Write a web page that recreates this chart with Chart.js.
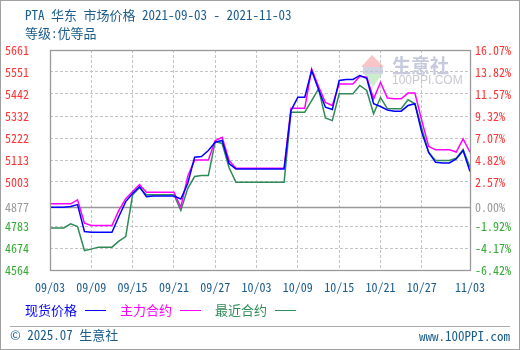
<!DOCTYPE html>
<html>
<head>
<meta charset="utf-8">
<script src="https://cdn.jsdelivr.net/npm/chart.js@4.4.0/dist/chart.umd.min.js"></script>
<style>
  body { margin: 0; background: #fff; }
  #wrap { position: relative; width: 520px; height: 350px; overflow: hidden; background: #fff; }
  #frame { position: absolute; left: 0; top: 0; width: 520px; height: 350px; box-sizing: border-box; border: 1px solid #a0a0a0; pointer-events: none; }
  #chart { position: absolute; left: 0; top: 0; }
  .txt { position: absolute; white-space: nowrap; font-family: "Noto Sans Mono CJK SC", "Noto Sans CJK SC", monospace; font-size: 13px; line-height: 16px; color: #1a5c8c; }
  .lg { position: absolute; height: 0; width: 21px; border-top: 1.5px solid; }
  #sep { position: absolute; left: 10px; top: 326px; width: 500px; height: 0; border-top: 1px solid #aaa; }
</style>
</head>
<body>
<div id="wrap">
  <canvas id="chart" width="520" height="350"></canvas>
  <div class="txt" style="left:25px;top:7px;">PTA 华东 市场价格 2021-09-03 - 2021-11-03</div>
  <div class="txt" style="left:25px;top:25px;">等级:优等品</div>

  <div class="txt" style="left:25px;top:302px;color:#0000ff;">现货价格</div>
  <div class="lg" style="left:85px;top:310px;border-color:#0000ff;"></div>
  <div class="txt" style="left:120px;top:302px;color:#ff00ff;">主力合约</div>
  <div class="lg" style="left:180px;top:310px;border-color:#ff00ff;"></div>
  <div class="txt" style="left:215px;top:302px;color:#2e8b57;">最近合约</div>
  <div class="lg" style="left:275px;top:310px;border-color:#2e8b57;"></div>

  <div id="sep"></div>
  <div class="txt" style="left:10px;top:327px;">© 2025.07 生意社</div>
  <div class="txt" style="right:10px;top:328px;">www.100PPI.com</div>
  <div id="frame"></div>
</div>

<script>
// 每日数据, 从 2021-09-03 起 (共 62 天)
const spotPrice = [4877, 4877, 4877, 4881, 4890, 4756, 4752, 4752, 4752, 4752,
  4831, 4905, 4945, 4980, 4930, 4933, 4933, 4933, 4933, 4918,
  4995, 5126, 5130, 5160, 5201, 5210, 5095, 5068, 5068, 5068,
  5068, 5068, 5068, 5068, 5068, 5359, 5426, 5426, 5559, 5464,
  5376, 5364, 5509, 5514, 5514, 5534, 5520, 5393, 5379, 5362,
  5356, 5356, 5384, 5393, 5250, 5150, 5101, 5098, 5098, 5118,
  5160, 5055];
const mainContract = [4894, 4894, 4894, 4894, 4914, 4797, 4786, 4786, 4786, 4786,
  4861, 4920, 4955, 4990, 4952, 4952, 4952, 4952, 4952, 4877,
  5030, 5112, 5113, 5113, 5210, 5226, 5110, 5071, 5071, 5071,
  5071, 5071, 5071, 5071, 5071, 5371, 5371, 5371, 5566, 5479,
  5399, 5384, 5492, 5492, 5492, 5530, 5525, 5418, 5500, 5422,
  5418, 5418, 5446, 5446, 5309, 5180, 5163, 5163, 5163, 5152,
  5218, 5151];
const nearContract = [4774, 4774, 4774, 4794, 4781, 4661, 4668, 4678, 4678, 4678,
  4708, 4731, 4940, 4974, 4939, 4939, 4939, 4939, 4939, 4861,
  4970, 5030, 5035, 5035, 5205, 5195, 5075, 5002, 5002, 5002,
  5002, 5002, 5002, 5002, 5002, 5351, 5351, 5351, 5409, 5467,
  5322, 5309, 5443, 5443, 5443, 5484, 5459, 5343, 5424, 5369,
  5368, 5368, 5413, 5393, 5270, 5150, 5110, 5110, 5110, 5122,
  5165, 5076];

// 坐标轴刻度
const xTickDays = [0, 6, 12, 18, 24, 30, 36, 42, 48, 54, 61];
const xTickLabels = ['09/03', '09/09', '09/15', '09/21', '09/27', '10/03', '10/09', '10/15', '10/21', '10/27', '11/03'];
const yTickValues = [4564, 4673.7, 4783.4, 4877, 5002.8, 5112.5, 5222.2, 5331.9, 5441.6, 5551.3, 5661];
const yTickLabels = ['4564', '4674', '4783', '4877', '5003', '5113', '5222', '5332', '5442', '5551', '5661'];
const pctTickLabels = ['-6.42%', '-4.17%', '-1.92%', '0.00%', '2.57%', '4.82%', '7.07%', '9.32%', '11.57%', '13.82%', '16.07%'];
const baseValue = 4877;

const FONT = '"Noto Sans Mono CJK SC", "Noto Sans CJK SC", monospace';

function toPoints(arr) {
  return arr.map((v, i) => ({ x: i, y: v }));
}

function tickColor(ctx) {
  const v = ctx.tick ? ctx.tick.value : 0;
  if (v === baseValue) return '#999999';
  return v > baseValue ? '#ff3333' : '#33aa33';
}

// 背景水印、零线和边框
const decorPlugin = {
  id: 'decor',
  beforeDatasetsDraw(chart) {
    const ctx = chart.ctx;
    const area = chart.chartArea;
    ctx.save();
    // 水印
    ctx.fillStyle = 'rgba(240,150,150,0.55)';
    ctx.beginPath();
    ctx.moveTo(361, 67); ctx.lineTo(372, 55); ctx.lineTo(384, 67);
    ctx.closePath(); ctx.fill();
    ctx.fillStyle = 'rgba(190,195,215,0.7)';
    ctx.fillRect(363, 67, 20, 7);
    ctx.fillStyle = 'rgba(170,225,170,0.6)';
    ctx.beginPath();
    ctx.moveTo(364, 74); ctx.lineTo(382, 74); ctx.lineTo(373, 87);
    ctx.closePath(); ctx.fill();
    ctx.fillStyle = '#c6cadc';
    ctx.font = 'bold 19px "Noto Sans CJK SC"';
    ctx.textBaseline = 'middle';
    ctx.fillText('生意社', 392, 66);
    ctx.fillStyle = '#c8c8d0';
    ctx.font = '12px "Liberation Sans"';
    ctx.fillText('100PPI.COM', 392, 81);
    // 零线
    const y0 = Math.round(chart.scales.y.getPixelForValue(baseValue)) + 0.5;
    ctx.strokeStyle = '#999999';
    ctx.lineWidth = 1.3;
    ctx.beginPath();
    ctx.moveTo(area.left, y0);
    ctx.lineTo(area.right, y0);
    ctx.stroke();
    ctx.restore();
  },
  afterDraw(chart) {
    const ctx = chart.ctx;
    const a = chart.chartArea;
    ctx.save();
    ctx.strokeStyle = '#999999';
    ctx.lineWidth = 1.3;
    ctx.strokeRect(Math.round(a.left) + 0.5, Math.round(a.top) + 0.5,
      Math.round(a.right - a.left), Math.round(a.bottom - a.top));
    ctx.restore();
  }
};

new Chart(document.getElementById('chart'), {
  type: 'line',
  data: {
    datasets: [
      { label: '现货价格', data: toPoints(spotPrice), borderColor: '#0000ff' },
      { label: '主力合约', data: toPoints(mainContract), borderColor: '#ff00ff' },
      { label: '最近合约', data: toPoints(nearContract), borderColor: '#2e8b57' }
    ]
  },
  options: {
    responsive: false,
    animation: false,
    devicePixelRatio: 1,
    layout: { padding: { top: 50, left: 0, right: 0, bottom: 0 } },
    elements: {
      point: { radius: 0 },
      line: { borderWidth: 1.5, tension: 0, fill: false }
    },
    plugins: {
      legend: { display: false },
      title: { display: false },
      tooltip: { enabled: false }
    },
    scales: {
      x: {
        type: 'linear',
        min: 0,
        max: 61,
        afterBuildTicks: (s) => { s.ticks = xTickDays.map(v => ({ value: v })); },
        afterFit: (s) => { s.height = 80; },
        ticks: {
          autoSkip: false,
          maxRotation: 0,
          padding: 10,
          color: '#1a5c8c',
          font: { family: FONT, size: 12 },
          callback: (v, i) => xTickLabels[i]
        },
        grid: {
          drawTicks: false,
          color: (ctx) => (ctx.tick && (ctx.tick.value === 0 || ctx.tick.value === 61)) ? 'rgba(0,0,0,0)' : '#c4c4c4',
          lineWidth: 1
        },
        border: { display: false, dash: [3, 2] }
      },
      y: {
        position: 'left',
        min: 4564,
        max: 5661,
        afterBuildTicks: (s) => { s.ticks = yTickValues.map(v => ({ value: v })); },
        afterFit: (s) => { s.width = 50; },
        ticks: {
          autoSkip: false,
          padding: 21,
          color: tickColor,
          font: { family: FONT, size: 12 },
          callback: (v, i) => yTickLabels[i]
        },
        grid: {
          drawTicks: false,
          color: (ctx) => (ctx.tick && (ctx.tick.value === baseValue || ctx.index === 0 || ctx.index === yTickValues.length - 1)) ? 'rgba(0,0,0,0)' : '#c4c4c4',
          lineWidth: 1
        },
        border: { display: false, dash: [3, 2] }
      },
      y2: {
        position: 'right',
        min: 4564,
        max: 5661,
        afterBuildTicks: (s) => { s.ticks = yTickValues.map(v => ({ value: v })); },
        afterFit: (s) => { s.width = 50; },
        ticks: {
          autoSkip: false,
          padding: 5,
          color: tickColor,
          font: { family: FONT, size: 12 },
          callback: (v, i) => pctTickLabels[i]
        },
        grid: { display: false, drawTicks: false },
        border: { display: false }
      }
    }
  },
  plugins: [decorPlugin]
});
</script>
</body>
</html>
